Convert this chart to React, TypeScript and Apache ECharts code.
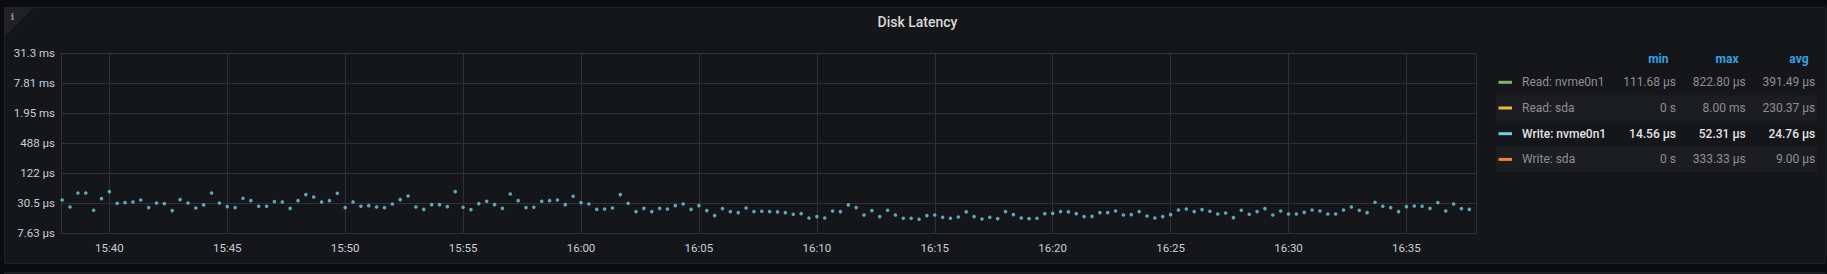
import React, { useEffect, useRef } from "react";
import * as echarts from "echarts";

// ---- Data ----
const TITLE = "Disk Latency";
const START = new Date(2024, 0, 1, 15, 38, 0).getTime();
const STEP_MS = 20000;
const X_MIN = new Date(2024, 0, 1, 15, 37, 57).getTime();
const X_MAX = new Date(2024, 0, 1, 16, 37, 57).getTime();

// Write: nvme0n1 latency in microseconds, one sample every 20 s from 15:38:00
const writeNvme0n1Us = [
  35.6, 25.8, 49.2, 49.2, 22.1, 37.9, 52.3, 30.5, 31.5, 32.5,
  35.6, 25.0, 31.0, 30.1, 21.8, 36.2, 31.0, 24.6, 28.3, 49.2,
  31.0, 26.2, 25.0, 38.5, 34.5, 26.6, 26.6, 33.0, 32.5, 24.2,
  34.5, 45.6, 40.9, 32.5, 34.5, 48.5, 25.0, 32.5, 26.6, 27.4,
  25.8, 25.0, 29.6, 36.2, 42.8, 25.8, 23.1, 28.7, 28.7, 26.2,
  52.3, 25.4, 22.8, 30.1, 33.5, 28.7, 24.2, 47.0, 34.5, 25.0,
  25.4,
  33.5, 34.5, 35.6, 28.7, 42.2, 31.5, 29.6, 23.1, 23.5,
  24.6, 45.6, 30.5, 20.8, 24.2, 20.8, 24.2, 23.5, 27.4, 29.6,
  23.1, 27.4, 21.8, 17.3, 23.9, 20.8, 19.8, 24.6, 20.8, 21.1,
  20.8, 20.5, 19.8, 18.4, 18.9, 15.5, 16.5, 15.5, 21.4, 20.8,
  28.3, 25.0, 17.8, 21.8, 16.5, 22.1, 17.8, 15.3, 15.3, 14.6,
  17.3, 17.8, 16.0, 15.3, 16.2, 20.5, 16.5, 14.8, 16.0, 15.0,
  20.8, 18.1, 15.5, 15.0, 15.3, 18.9, 19.2, 20.8, 20.5, 18.9,
  16.5, 16.7, 19.8, 19.8, 21.4, 17.8, 18.1, 20.8, 17.0, 15.5,
  16.5, 18.1, 22.4, 23.5, 20.8, 22.8, 21.1, 18.6, 19.5, 15.7,
  22.1, 18.4, 20.8, 23.9, 17.8, 21.4, 18.6, 18.6, 20.1, 22.4,
  21.4, 18.6, 18.6, 22.4, 25.8, 22.1, 19.8, 32.0, 26.6, 25.0,
  20.8, 26.2, 27.0, 26.6, 24.2, 31.5, 21.4, 29.6, 23.9, 23.1,
];

// Legend table
const legendNames = ["Read: nvme0n1", "Read: sda", "Write: nvme0n1", "Write: sda"];
const legendColors = ["#7EB26D", "#EAB839", "#6ED0E0", "#EF843C"];
const legendMin = ["111.68 µs", "0 s", "14.56 µs", "0 s"];
const legendMax = ["822.80 µs", "8.00 ms", "52.31 µs", "333.33 µs"];
const legendAvg = ["391.49 µs", "230.37 µs", "24.76 µs", "9.00 µs"];
const legendVisible = [false, false, true, false];
const legendHeaders = ["min", "max", "avg"];

// y axis: log scale, plotted in half-second units so that base-4 ticks fall on 2^-17 s ... 2^-5 s
const HALF_SECONDS_PER_US = 2e-6;
const Y_MIN = Math.pow(4, -8);
const Y_MAX = Math.pow(4, -2);

function fmtSeconds(s: number): string {
  if (s >= 1) return s.toPrecision(3) + " s";
  if (s >= 1e-3) return (s * 1e3).toPrecision(3) + " ms";
  return (s * 1e6).toPrecision(3) + " µs";
}

function pad(n: number) {
  return n < 10 ? "0" + n : "" + n;
}

const FONT = "Roboto, 'Noto Sans', sans-serif";

export default function App() {
  const ref = useRef<HTMLDivElement>(null);

  useEffect(() => {
    if (!ref.current) return;
    const chart = echarts.init(ref.current, undefined, { renderer: "svg" });

    const seriesData = writeNvme0n1Us.map((v, i) => [START + i * STEP_MS, v * HALF_SECONDS_PER_US]);

    const graphics: any[] = [];
    graphics.push({
      type: "rect",
      z: -100,
      silent: true,
      shape: { x: 4.5, y: 7.5, width: 1821, height: 256 },
      style: { fill: "#141619", stroke: "#202226", lineWidth: 1 },
    });
    graphics.push({
      type: "rect",
      z: -100,
      silent: true,
      shape: { x: 4.5, y: 272.5, width: 1821, height: 10 },
      style: { fill: "#141619", stroke: "#202226", lineWidth: 1 },
    });
    graphics.push({
      type: "polygon",
      z: -90,
      silent: true,
      shape: { points: [[5, 8], [33, 8], [5, 36]] },
      style: { fill: "#202226" },
    });
    graphics.push({
      type: "text",
      z: 10,
      silent: true,
      style: {
        text: "i",
        x: 12.5,
        y: 16.5,
        align: "center",
        verticalAlign: "middle",
        fill: "#8e8e8e",
        font: "bold 10px 'DejaVu Serif', serif",
      },
    });

    const headerRight = [1668.5, 1738.5, 1808.5];
    const valueRight = [1676, 1745.7, 1815.3];
    legendHeaders.forEach((h, j) => {
      graphics.push({
        type: "text",
        silent: true,
        style: {
          text: h,
          x: headerRight[j],
          y: 59,
          align: "right",
          verticalAlign: "middle",
          fill: "#33a2e5",
          font: `bold 12px ${FONT}`,
        },
      });
    });
    legendNames.forEach((name, i) => {
      const cy = 82.3 + i * 25.7;
      if (i % 2 === 1) {
        graphics.push({
          type: "rect",
          z: -50,
          silent: true,
          shape: { x: 1496, y: cy - 12.85, width: 321, height: 25.7 },
          style: { fill: "#1b1d21" },
        });
      }
      graphics.push({
        type: "rect",
        silent: true,
        shape: { x: 1498.5, y: cy - 1.5, width: 13.5, height: 3 },
        style: { fill: legendColors[i] },
      });
      const color = legendVisible[i] ? "#e4e5e6" : "#909090";
      const weight = legendVisible[i] ? 500 : 400;
      graphics.push({
        type: "text",
        silent: true,
        style: {
          text: name,
          x: 1522,
          y: cy,
          align: "left",
          verticalAlign: "middle",
          fill: color,
          font: `${weight} 12px ${FONT}`,
        },
      });
      [legendMin[i], legendMax[i], legendAvg[i]].forEach((val, j) => {
        graphics.push({
          type: "text",
          silent: true,
          style: {
            text: val,
            x: valueRight[j],
            y: cy,
            align: "right",
            verticalAlign: "middle",
            fill: color,
            font: `${weight} 12px ${FONT}`,
          },
        });
      });
    });

    const gridColor = "#2f3135";
    const labelColor = "#c7d0d9";

    chart.setOption({
      animation: false,
      backgroundColor: "#0b0c0e",
      textStyle: { fontFamily: FONT },
      title: {
        text: TITLE,
        left: 917.5,
        top: 15,
        padding: 0,
        textAlign: "center",
        textStyle: { color: "#d8d9da", fontSize: 14, fontWeight: 500, fontFamily: FONT },
      },
      grid: { left: 61, right: 351, top: 53.3, bottom: 40.7, containLabel: false },
      xAxis: {
        type: "time",
        min: X_MIN,
        max: X_MAX,
        minInterval: 330000,
        maxInterval: 330000,
        axisLine: { show: false },
        axisTick: { show: false },
        splitLine: { show: true, lineStyle: { color: gridColor, width: 1 } },
        axisLabel: {
          color: labelColor,
          fontSize: 11.5,
          fontFamily: FONT,
          margin: 9,
          hideOverlap: false,
          showMinLabel: false,
          showMaxLabel: false,
          formatter: (v: number) => {
            const d = new Date(v);
            return pad(d.getHours()) + ":" + pad(d.getMinutes());
          },
        },
      },
      yAxis: {
        type: "log",
        logBase: 4,
        min: Y_MIN,
        max: Y_MAX,
        axisLine: { show: false },
        axisTick: { show: false },
        splitLine: { show: true, lineStyle: { color: gridColor, width: 1 } },
        axisLabel: {
          color: labelColor,
          fontSize: 11.5,
          fontFamily: FONT,
          margin: 6,
          formatter: (v: number) => fmtSeconds(v / 2),
        },
      },
      series: [
        {
          name: legendNames[2],
          type: "scatter",
          symbol: "circle",
          symbolSize: 3.6,
          itemStyle: { color: legendColors[2] },
          data: seriesData,
        },
      ],
      graphic: graphics,
    });

    return () => {
      chart.dispose();
    };
  }, []);

  return (
    <div
      ref={ref}
      style={{ position: "absolute", left: 0, top: 0, width: 1827, height: 274 }}
    />
  );
}
